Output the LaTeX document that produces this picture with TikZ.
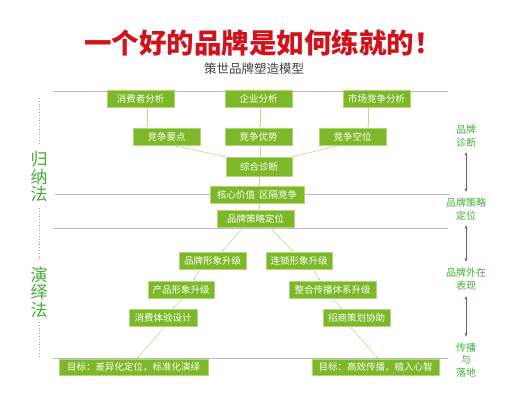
\documentclass[tikz,border=0pt]{standalone}
\usepackage{fontspec}
\setmainfont{Noto Sans CJK SC}
\usetikzlibrary{arrows.meta}
\definecolor{boxgreen}{HTML}{7CB828}
\definecolor{boxedge}{HTML}{B2D77A}
\definecolor{linkgreen}{HTML}{BFDB8A}
\definecolor{labgreen}{HTML}{43AE37}
\definecolor{titlered}{HTML}{D0121B}
\definecolor{rulegray}{HTML}{BBBBBB}
\tikzset{
  box/.style={draw=boxedge, line width=0.8pt, fill=boxgreen, text=white, font=\fontsize{9.5}{11}\selectfont, minimum height=17pt, inner sep=0pt, minimum width=#1},
  box/.default=67pt,
  conn/.style={draw=linkgreen, line width=0.6pt, -{Stealth[length=2.2pt,width=2pt]}},
  hrule/.style={draw=rulegray, line width=0.8pt},
  dots/.style={draw=gray!70, line width=0.8pt, dotted},
  sidelab/.style={text=labgreen, font=\fontsize{10}{12.5}\selectfont, align=center, inner sep=0pt},
  biglab/.style={text=labgreen, font=\fontsize{17}{17.5}\selectfont, align=center, inner sep=0pt},
  darrow/.style={draw=gray!80!black, line width=0.7pt, {Stealth[length=4pt,width=3pt]}-{Stealth[length=4pt,width=3pt]}}
}
\begin{document}
\begin{tikzpicture}[x=1pt,y=-1pt]
\useasboundingbox (0,0) rectangle (511,400);
% title
\node (title) at (263,43) {\fontsize{27.5}{29}\selectfont\bfseries\color{titlered}一个好的品牌是如何练就的！};
\node (sub) at (254,69) {\fontsize{12.5}{14}\selectfont\color{black!75}策世品牌塑造模型};
% rules
\coordinate (r1a) at (53,91); \coordinate (r1b) at (448,91);
\coordinate (r2a) at (55,194); \coordinate (r2b) at (450,194);
\coordinate (r3a) at (53,228); \coordinate (r3b) at (448,228);
\coordinate (r4a) at (53,358); \coordinate (r4b) at (448,358);
\draw[hrule] (r1a) -- (r1b);
\draw[hrule] (r2a) -- (r2b);
\draw[hrule] (r3a) -- (r3b);
\draw[hrule] (r4a) -- (r4b);
% nodes
\node[box] (n1) at (140.5,98.5) {消费者分析};
\node[box] (n2) at (258.5,98.5) {企业分析};
\node[box] (n3) at (376.5,98.5) {市场竞争分析};
\node[box] (n4) at (166.5,136.5) {竞争要点};
\node[box] (n5) at (258.5,136.5) {竞争优势};
\node[box] (n6) at (352.5,136.5) {竞争空位};
\node[box=66pt, minimum height=19pt] (n7) at (259,166.5) {综合诊断};
\node[box=94pt] (n8) at (257,194.5) {核心价值\hspace{4pt}区隔竞争};
\node[box=77pt] (n9) at (255.5,218.5) {品牌策略定位};
\node[box] (n10) at (212.5,260.5) {品牌形象升级};
\node[box=66pt] (n11) at (299,260.5) {连锁形象升级};
\node[box=66pt] (n12) at (181,289.5) {产品形象升级};
\node[box=87pt] (n13) at (332.5,289.5) {整合传播体系升级};
\node[box=68pt] (n14) at (163,317.5) {消费体验设计};
\node[box] (n15) at (356.5,317.5) {招商策划协助};
\node[box=149pt, minimum height=16pt] (n16) at (133.5,367) {目标：差异化定位，标准化演绎};
\node[box=127pt, minimum height=16pt] (n17) at (375.5,367) {目标：高效传播，植入心智};
% connectors
\draw[conn] ([xshift=6.5pt]n1.south) -- ([xshift=-19.5pt]n4.north);
\draw[conn] ([xshift=1.5pt]n2.south) -- ([xshift=1.5pt]n5.north);
\draw[conn] ([xshift=-8.5pt]n3.south) -- ([xshift=15.5pt]n6.north);
\draw[conn] ([xshift=6.5pt]n4.south) -- (n7.north west);
\draw[conn] ([xshift=1.5pt]n5.south) -- ([xshift=1pt]n7.north);
\draw[conn] ([xshift=-12.5pt]n6.south) -- (n7.north east);
\draw[conn] (n7.south) -- ([xshift=2pt]n8.north);
\draw[conn] ([xshift=2pt]n8.south) -- ([xshift=3.5pt]n9.north);
\draw[conn] ([xshift=-12.5pt]n9.south) -- ([xshift=9.5pt]n10.north);
\draw[conn] ([xshift=14.5pt]n9.south) -- ([xshift=-6pt]n11.north);
\draw[conn] ([xshift=-12.5pt]n10.south) -- ([xshift=12pt]n12.north);
\draw[conn] ([xshift=14pt]n11.south) -- ([xshift=-12.5pt]n13.north);
\draw[conn] ([xshift=2pt]n12.south) -- ([xshift=10pt]n14.north);
\draw[conn] ([xshift=-0.5pt]n13.south) -- ([xshift=-14.5pt]n15.north);
\draw[conn] ([xshift=2pt]n14.south) -- ([xshift=3.5pt]n16.north);
\draw[conn] ([xshift=-6.5pt]n15.south) -- ([xshift=2.5pt]n17.north);
% left labels
\node[biglab] (lab1) at (39,177) {归\\纳\\法};
\node[biglab] (lab2) at (39,292) {演\\绎\\法};
\coordinate (d1a) at (39,98); \coordinate (d1b) at (39,145);
\coordinate (d2a) at (39,208); \coordinate (d2b) at (39,260);
\coordinate (d3a) at (39,322); \coordinate (d3b) at (39,356);
\draw[dots] (d1a) -- (d1b);
\draw[dots] (d2a) -- (d2b);
\draw[dots] (d3a) -- (d3b);
% right labels
\node[sidelab] (s1) at (466,136) {品牌\\诊断};
\node[sidelab] (s2) at (466,209) {品牌策略\\定位};
\node[sidelab] (s3) at (466,279) {品牌外在\\表现};
\node[sidelab] (s4) at (466,360) {传播\\与\\落地};
\draw[darrow] ([yshift=-5pt]s1.south) -- ([yshift=6pt]s2.north);
\draw[darrow] ([yshift=-5pt]s2.south) -- ([yshift=6pt]s3.north);
\draw[darrow] ([yshift=-6pt]s3.south) -- ([yshift=6pt]s4.north);
\end{tikzpicture}
\end{document}
